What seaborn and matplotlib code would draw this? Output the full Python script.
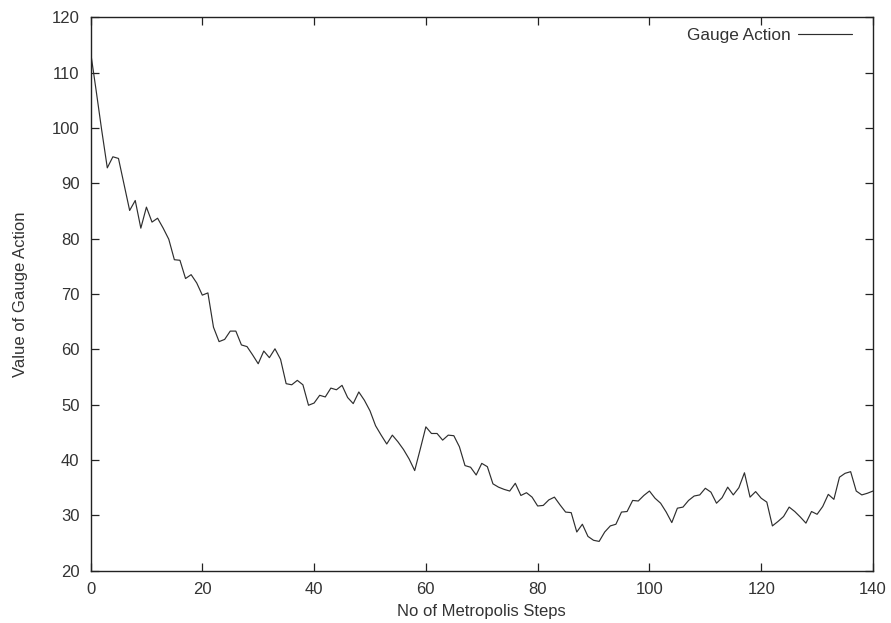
import numpy as np
import pandas as pd
import matplotlib
matplotlib.use("Agg")
import matplotlib.pyplot as plt
import seaborn as sns

steps = np.arange(0, 141)
gauge_action = [
    113.8, 106.8, 99.6, 92.8, 94.8, 94.5, 89.8, 85.1, 86.9, 81.9,
    85.7, 83.0, 83.7, 81.9, 79.9, 76.2, 76.1, 72.8, 73.5, 72.0,
    69.8, 70.2, 64.0, 61.4, 61.8, 63.3, 63.3, 60.8, 60.5, 59.0,
    57.4, 59.7, 58.5, 60.1, 58.2, 53.8, 53.6, 54.4, 53.6, 49.9,
    50.3, 51.7, 51.4, 53.0, 52.7, 53.5, 51.3, 50.2, 52.3, 50.8,
    48.9, 46.2, 44.5, 42.9, 44.5, 43.3, 41.9, 40.2, 38.1, 42.0,
    46.0, 44.8, 44.8, 43.6, 44.5, 44.4, 42.4, 39.0, 38.7, 37.3,
    39.4, 38.8, 35.7, 35.1, 34.7, 34.4, 35.8, 33.6, 34.1, 33.3,
    31.7, 31.8, 32.8, 33.3, 31.9, 30.6, 30.5, 27.0, 28.4, 26.2,
    25.5, 25.3, 27.0, 28.1, 28.4, 30.6, 30.7, 32.7, 32.6, 33.6,
    34.4, 33.1, 32.2, 30.6, 28.7, 31.3, 31.5, 32.7, 33.5, 33.7,
    34.9, 34.2, 32.2, 33.2, 35.1, 33.7, 35.0, 37.7, 33.3, 34.3,
    33.1, 32.4, 28.1, 28.9, 29.8, 31.5, 30.7, 29.7, 28.6, 30.7,
    30.2, 31.6, 33.8, 32.9, 36.9, 37.6, 37.9, 34.4, 33.7, 34.0,
    34.4,
]
x_ticks = [0, 20, 40, 60, 80, 100, 120, 140]
y_ticks = [20, 30, 40, 50, 60, 70, 80, 90, 100, 110, 120]
series_label = "Gauge Action"
x_label = "No of Metropolis Steps"
y_label = "Value of Gauge Action"

df = pd.DataFrame({"step": steps, "value": gauge_action})

sns.set_style("ticks")
plt.rcParams["font.family"] = ["Liberation Sans", "DejaVu Sans"]

fs = 12
text_color = "#333333"
fig = plt.figure(figsize=(8.91, 6.23), dpi=100)
ax = fig.add_axes([0.1016, 0.0839, 0.8782, 0.8883])

sns.lineplot(data=df, x="step", y="value", ax=ax, color="#2e2e2e",
             linewidth=0.85, label=series_label)

ax.set_xlim(0, 140)
ax.set_ylim(20, 120)
ax.set_xticks(x_ticks)
ax.set_yticks(y_ticks)
ax.tick_params(direction="in", length=5.5, width=0.9, top=True, right=True,
               labelsize=fs, colors="#222222", labelcolor=text_color)
ax.tick_params(axis="x", pad=8)
ax.tick_params(axis="y", pad=8)
for sp in ax.spines.values():
    sp.set_visible(True)
    sp.set_linewidth(1.0)
    sp.set_color("#222222")

ax.set_xlabel(x_label, fontsize=fs, color=text_color, labelpad=5)
ax.set_ylabel(y_label, fontsize=fs, color=text_color, labelpad=17)

leg = ax.legend(loc="upper right", bbox_to_anchor=(0.982, 0.994),
                frameon=False, markerfirst=False, fontsize=12.4,
                handlelength=3.15, handletextpad=0.4, borderaxespad=0.0)
for t in leg.get_texts():
    t.set_color(text_color)

fig.savefig("out.png", dpi=100)
